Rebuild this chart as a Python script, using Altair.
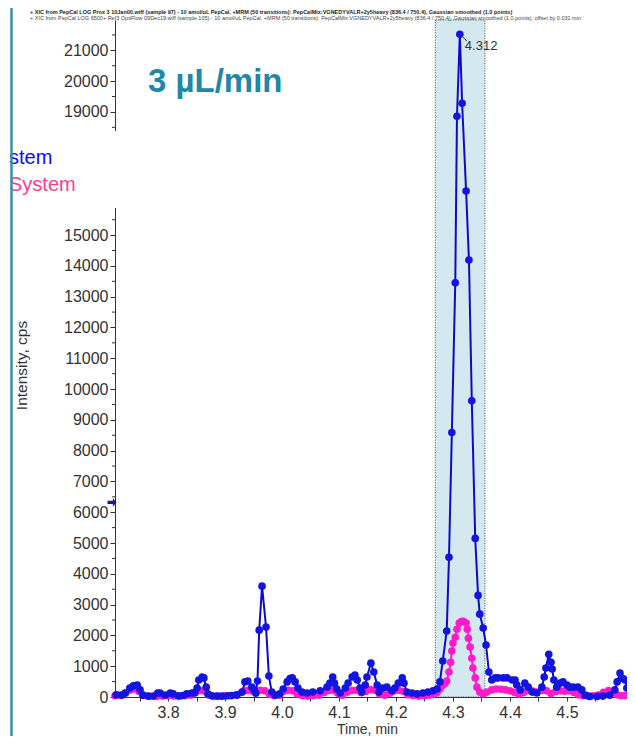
import altair as alt
import pandas as pd

# ---------------- data ----------------
blue_t = [3.709, 3.719, 3.725, 3.733, 3.739, 3.746, 3.751, 3.756, 3.765, 3.774,
          3.782, 3.786, 3.795, 3.804, 3.809, 3.818, 3.826, 3.833, 3.842, 3.847,
          3.851, 3.854, 3.860, 3.863, 3.867, 3.870, 3.877, 3.886, 3.895, 3.904,
          3.912, 3.921, 3.930, 3.935, 3.940, 3.947, 3.951, 3.954, 3.957, 3.960,
          3.965, 3.972, 3.977, 3.982, 3.988, 3.996, 4.002, 4.009, 4.014, 4.018,
          4.023, 4.028, 4.035, 4.044, 4.054, 4.067, 4.079, 4.084, 4.089, 4.092,
          4.096, 4.102, 4.111, 4.116, 4.123, 4.128, 4.132, 4.137, 4.140, 4.146,
          4.149, 4.156, 4.161, 4.167, 4.170, 4.177, 4.184, 4.193, 4.198, 4.204,
          4.211, 4.214, 4.219, 4.228, 4.237, 4.247, 4.256, 4.265, 4.272, 4.277,
          4.282, 4.289, 4.293, 4.298, 4.304, 4.307, 4.312, 4.316, 4.323, 4.328,
          4.333, 4.339, 4.344, 4.347, 4.353, 4.358, 4.363, 4.368, 4.374, 4.379,
          4.388, 4.395, 4.404, 4.409, 4.412, 4.418, 4.426, 4.432, 4.439, 4.447,
          4.456, 4.460, 4.463, 4.468, 4.472, 4.474, 4.477, 4.482, 4.488, 4.493,
          4.500, 4.505, 4.511, 4.519, 4.526, 4.532, 4.540, 4.553, 4.563, 4.575,
          4.584, 4.588, 4.593, 4.598, 4.602, 4.605]
blue_v = [70, 60, 130, 290, 360, 390, 230, 60, 30, 30,
          130, 130, 60, 130, 100, 40, 50, 100, 130, 130,
          290, 550, 650, 620, 320, 100, 40, 30, 30, 40,
          50, 60, 160, 490, 520, 320, 230, 120, 520, 2170,
          3600, 2270, 680, 160, 60, 100, 260, 490, 600, 620,
          490, 290, 160, 130, 160, 200, 320, 450, 650, 450,
          260, 130, 290, 450, 650, 710, 550, 290, 160, 390,
          650, 1100, 810, 390, 160, 290, 320, 200, 290, 450,
          620, 450, 160, 130, 100, 130, 160, 200, 260, 490,
          1170, 2140, 4540, 8590, 13450, 18860, 21520, 19280, 16430, 14190,
          9620, 5150, 3300, 2690, 2240, 1690, 810, 550, 620, 620,
          620, 620, 550, 550, 390, 230, 450, 320, 160, 130,
          320, 650, 940, 1390, 1130, 910, 550, 320, 450, 490,
          390, 320, 320, 320, 230, 60, 20, 20, 30, 60,
          230, 490, 780, 600, 550, 290]

pink_t = [3.707, 3.715, 3.725, 3.733, 3.741, 3.749, 3.757, 3.767, 3.780, 3.790,
          3.800, 3.810, 3.820, 3.830, 3.840, 3.848, 3.856, 3.864, 3.872, 3.880,
          3.890, 3.900, 3.910, 3.920, 3.930, 3.938, 3.946, 3.954, 3.962, 3.970,
          3.978, 3.986, 3.995, 4.003, 4.011, 4.019, 4.027, 4.036, 4.045, 4.055,
          4.065, 4.074, 4.082, 4.090, 4.098, 4.106, 4.115, 4.123, 4.131, 4.139,
          4.147, 4.155, 4.163, 4.171, 4.180, 4.189, 4.197, 4.205, 4.213, 4.221,
          4.230, 4.240, 4.250, 4.258, 4.266, 4.272, 4.277, 4.282, 4.286, 4.289,
          4.293, 4.296, 4.298, 4.300, 4.304, 4.307, 4.311, 4.315, 4.318, 4.323,
          4.325, 4.327, 4.330, 4.333, 4.335, 4.339, 4.342, 4.347, 4.353, 4.360,
          4.368, 4.376, 4.384, 4.392, 4.400, 4.408, 4.416, 4.424, 4.432, 4.440,
          4.448, 4.456, 4.464, 4.472, 4.480, 4.488, 4.496, 4.504, 4.512, 4.520,
          4.528, 4.537, 4.546, 4.555, 4.564, 4.573, 4.581, 4.588, 4.595, 4.602]
pink_v = [40, 60, 120, 220, 260, 180, 50, 20, 20, 30,
          40, 30, 20, 40, 60, 160, 210, 190, 60, 20,
          20, 30, 40, 80, 160, 210, 200, 170, 220, 200,
          90, 40, 60, 180, 220, 200, 90, 40, 30, 40,
          60, 150, 210, 220, 120, 60, 160, 210, 220, 140,
          180, 240, 220, 100, 60, 120, 200, 220, 180, 70,
          40, 30, 40, 60, 90, 150, 260, 380, 450, 520,
          810, 1130, 1490, 1750, 1940, 2200, 2400, 2450, 2460, 2400,
          2200, 1910, 1620, 1260, 940, 620, 320, 160, 100, 160,
          230, 260, 250, 230, 200, 150, 90, 150, 210, 190,
          160, 220, 200, 110, 180, 200, 190, 200, 150, 70,
          40, 30, 40, 60, 150, 210, 180, 70, 40, 50]

peak_time = 4.312
peak_value = 21520
peak_label = "4.312"
window_start, window_end = 4.269, 4.356

x_tick_values = [round(3.75 + 0.05 * i, 2) for i in range(17)]
y_tick_values = list(range(0, 22000, 1000))
y_minor_values = list(range(500, 22000, 1000))

header_1 = ("+ XIC from PepCal LOG Prox 3 10Jan00.wiff (sample 97) - 10 amol/uL PepCal, +MRM (50 transitions): "
            "PepCalMix:VGNEDYVALR+2y5heavy (836.4 / 750.4), Gaussian smoothed (1.0 points)")
header_2 = ("+ XIC from PepCal LOG 6500+ Ref3 OptiFlow 09Dec19.wiff (sample 105) - 10 amol/uL PepCal, +MRM (50 transitions): "
            "PepCalMix:VGNEDYVALR+2y5heavy (836.4 / 750.4), Gaussian smoothed (1.0 points), offset by 0.031 min")

# ---------------- chart ----------------
FONT = "Liberation Sans"
X_MIN, X_MAX = 3.707, 4.6053
Y_MAX = 21985
W, H = 512, 677

xs = alt.Scale(domain=[X_MIN, X_MAX], nice=False, zero=False)
ys = alt.Scale(domain=[0, Y_MAX], nice=False, zero=False)

blue_df = pd.DataFrame({"t": blue_t, "v": blue_v})
pink_df = pd.DataFrame({"t": pink_t, "v": pink_v})
one = pd.DataFrame({"a": [1]})

x_axis = alt.Axis(values=x_tick_values,
                  labelExpr="abs(datum.value*10 - round(datum.value*10)) < 0.01 && datum.value < 4.58 ? format(datum.value, '.1f') : ''",
                  tickSize=4, labelPadding=3, labelFont=FONT, labelFontSize=16, labelColor="#333",
                  domainColor="#333", tickColor="#333", grid=False, title="Time, min",
                  titleFont=FONT, titleFontSize=14, titleFontWeight="normal", titleColor="#333",
                  titleX=252, titleY=36, titleBaseline="alphabetic")
y_axis = alt.Axis(values=y_tick_values,
                  labelExpr="datum.value >= 16000 && datum.value <= 18000 ? '' : format(datum.value, 'd')",
                  tickSize=5, labelPadding=2,
                  labelFont=FONT, labelFontSize=16, labelColor="#333",
                  domainColor="#333", tickColor="#333", grid=False, title="Intensity, cps",
                  titleFont=FONT, titleFontSize=15.5, titleFontWeight="normal", titleColor="#333",
                  titleX=-86, titleY=345)

XE = lambda f: alt.X(f, scale=xs, axis=x_axis, title="Time, min")
YE = lambda f: alt.Y(f, scale=ys, axis=y_axis, title="Intensity, cps")

win = alt.Chart(pd.DataFrame({"t": [window_start], "t1": [window_end], "v": [0], "v1": [Y_MAX]})).mark_rect(
    fill="#d4e8ef", stroke="#444", strokeDash=[1, 1.5], strokeWidth=1
).encode(x=XE("t:Q"), x2="t1:Q", y=YE("v:Q"), y2="v1:Q")

def series(df, line_color, point_color):
    base = alt.Chart(df).encode(x=XE("t:Q"), y=YE("v:Q"))
    ln = base.mark_line(color=line_color, strokeWidth=2, clip=True)
    pt = base.mark_circle(color=point_color, size=58, opacity=1).transform_filter(f"datum.t <= {X_MAX}")
    return ln + pt

pink = series(pink_df, "#ff1acb", "#ff1acb")
blue = series(blue_df, "#0c0cc8", "#1414e0")

lead = alt.Chart(pd.DataFrame({"t": [peak_time], "t2": [peak_time + 0.0125], "v": [peak_value], "v2": [21300]})).mark_rule(
    color="#333", strokeWidth=1
).encode(x=XE("t:Q"), x2="t2:Q", y=YE("v:Q"), y2="v2:Q")
lab = alt.Chart(pd.DataFrame({"t": [peak_time], "v": [peak_value], "s": [peak_label]})).mark_text(
    align="left", baseline="middle", dx=5, dy=12, font=FONT, fontSize=13, color="#333"
).encode(x=XE("t:Q"), y=YE("v:Q"), text="s:N")

minor = alt.Chart(pd.DataFrame({"v": y_minor_values})).mark_rule(color="#333", strokeWidth=1).encode(
    x=alt.value(-3), x2=alt.value(0), y=YE("v:Q"))

cover = alt.Chart(one).mark_rect(fill="white").encode(
    x=alt.value(-120), x2=alt.value(8), y=alt.value(111), y2=alt.value(188))
leg1 = alt.Chart(one).mark_text(align="left", baseline="alphabetic", font=FONT, fontSize=20, color="#0a0aff").encode(
    x=alt.value(-106), y=alt.value(144), text=alt.value("stem"))
leg2 = alt.Chart(one).mark_text(align="left", baseline="alphabetic", font=FONT, fontSize=20, color="#ff3d8f").encode(
    x=alt.value(-106), y=alt.value(171), text=alt.value("System"))
rate = alt.Chart(one).mark_text(align="left", baseline="alphabetic", font=FONT, fontSize=33, fontWeight="bold",
                                color="#1f87a8").encode(
    x=alt.value(33), y=alt.value(72), text=alt.value("3 µL/min"))
teal = alt.Chart(one).mark_rule(color="#3a8db3", strokeWidth=2.5).encode(
    x=alt.value(-103.5), y=alt.value(-12), y2=alt.value(716))
arrow = alt.Chart(pd.DataFrame({"v": [6320]})).mark_point(
    shape="M-1,-0.35L0.2,-0.35L0.2,-1L1,0L0.2,1L0.2,0.35L-1,0.35Z", filled=True, size=80,
    color="#1a1a8c", opacity=1).encode(x=alt.value(-3), y=YE("v:Q"))
hd1 = alt.Chart(one).mark_text(align="left", baseline="alphabetic", font=FONT, fontSize=5.5, fontWeight="bold",
                               color="#222").encode(x=alt.value(-85), y=alt.value(-6), text=alt.value(header_1))
hd2 = alt.Chart(one).mark_text(align="left", baseline="alphabetic", font=FONT, fontSize=5.5,
                               color="#444").encode(x=alt.value(-85), y=alt.value(0), text=alt.value(header_2))

chart = alt.layer(
    win, pink, blue, lead, lab, minor, cover, leg1, leg2, rate, teal, arrow, hd1, hd2
).properties(
    width=W, height=H,
    autosize=alt.AutoSizeParams(type="none"),
    padding={"left": 107, "top": 12, "right": 0, "bottom": 39},
    background="white",
).configure_view(stroke=None)

chart.save("out.html", embed_options={"renderer": "svg", "actions": False})
